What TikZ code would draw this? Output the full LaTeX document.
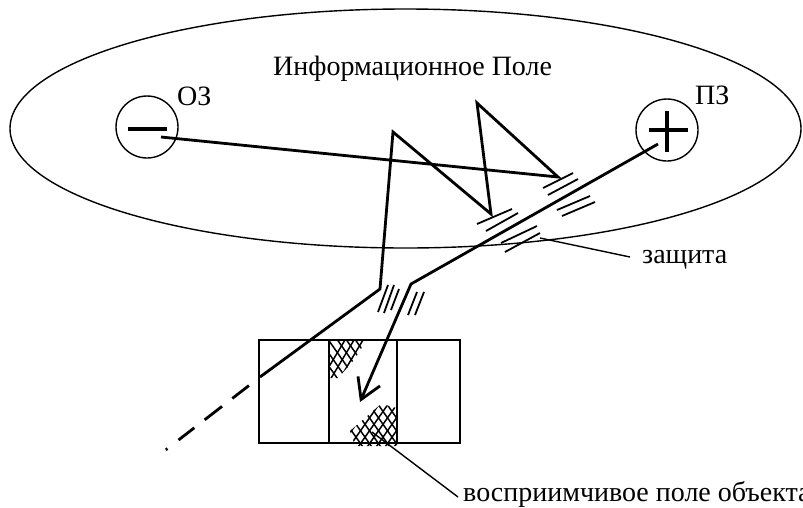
\documentclass[tikz,border=0pt]{standalone}
\usepackage{fontspec}
\setmainfont{Liberation Serif}
\usetikzlibrary{shapes.geometric,arrows.meta}
\tikzset{
  thinline/.style={line width=1.4pt},
  mainline/.style={line width=2.8pt},
  signline/.style={line width=4pt},
  hatchline/.style={line width=1.8pt},
  crossline/.style={line width=1.5pt},
  boxline/.style={line width=1.8pt},
  lbl/.style={font=\fontsize{28}{32}\selectfont, inner sep=0pt},
  pole/.style={circle, draw, line width=1.4pt, minimum size=62pt, inner sep=0pt},
}
\begin{document}
\begin{tikzpicture}[x=1pt,y=-1pt]
\useasboundingbox (0,0) rectangle (803,507);
% information field
\node[ellipse, draw, thinline, minimum width=791pt, minimum height=239pt, inner sep=0pt] (field) at (405.5,128.5) {};
\node[lbl, anchor=base west] (title) at (273,75) {Информационное Поле};
% poles
\node[pole] (minus) at (147,127) {};
\node[pole] (plus) at (667,130) {};
\node[lbl, anchor=base west] (oz) at (177,105) {ОЗ};
\node[lbl, anchor=base west] (pz) at (695,104) {ПЗ};
\draw[signline] (128,129) -- (167,129);
\draw[signline] (649,130) -- (688,130) (667,111) -- (667,152);
% named points
\coordinate (m0) at (161,137);
\coordinate (m1) at (558,177);
\coordinate (m2) at (477,103);
\coordinate (m3) at (491,214);
\coordinate (m4) at (393,132);
\coordinate (m5) at (380,289);
\coordinate (m6) at (260,377);
\coordinate (m7) at (163,452);
\coordinate (p0) at (658,144);
\coordinate (p1) at (411,284);
\coordinate (p2) at (360,402);
% negative path
\draw[mainline, line join=miter] (m0) -- (m1) -- (m2) -- (m3) -- (m4) -- (m5) -- (m6);
\draw[mainline, dash pattern=on 0pt off 14pt on 21pt off 13pt on 22pt off 13pt on 20pt off 14pt on 2pt off 100pt] (m6) -- (m7);
% positive path with arrow
\draw[mainline, -{Straight Barb[length=20pt,width=24pt]}] (p0) -- (p1) -- (p2);
% protection hatches in the field
\draw[hatchline]
  (477,224) -- (512,209) (486,231) -- (518,213)
  (543,188) -- (573,173) (548,195) -- (578,179)
  (557,210) -- (590,196) (562,216) -- (595,202)
  (501,243) -- (537,226) (505,252) -- (540,233);
% hatches near the kinks
\draw[hatchline]
  (378,312) -- (388,285) (384,313) -- (394,285) (391,310) -- (399,289)
  (408,315) -- (417,292) (415,315) -- (424,292);
% label protection
\coordinate (z0) at (540,238);
\node[lbl, anchor=base west] (zash) at (642,263) {защита};
\draw[thinline] (z0) -- (630,257);
% object box
\draw[boxline] (259,340) rectangle (460,443);
\draw[boxline] (329,340) -- (329,443) (397,340) -- (397,443);
% crosshatch top
\begin{scope}
  \clip (330,341) -- (366,341) -- (354,360) -- (338,378) -- (330,378) -- cycle;
  \foreach \i in {0,...,6} {
    \draw[crossline] ({318+9*\i},385) -- ++(30,-50);
    \draw[crossline] ({298+9*\i},335) -- ++(35,50);
  }
\end{scope}
% crosshatch bottom
\begin{scope}
  \clip (350,431) -- (381,404) -- (397,408) -- (397,446) -- (355,446) -- cycle;
  \foreach \i in {0,...,8} {
    \draw[crossline] ({338+9*\i},450) -- ++(35,-50);
    \draw[crossline] ({312+9*\i},400) -- ++(35,50);
  }
\end{scope}
% label receptive field
\coordinate (r0) at (372,432);
\node[lbl, anchor=base west] (recept) at (463,501) {восприимчивое поле объекта};
\draw[thinline] (r0) -- (458,497);
\end{tikzpicture}
\end{document}
